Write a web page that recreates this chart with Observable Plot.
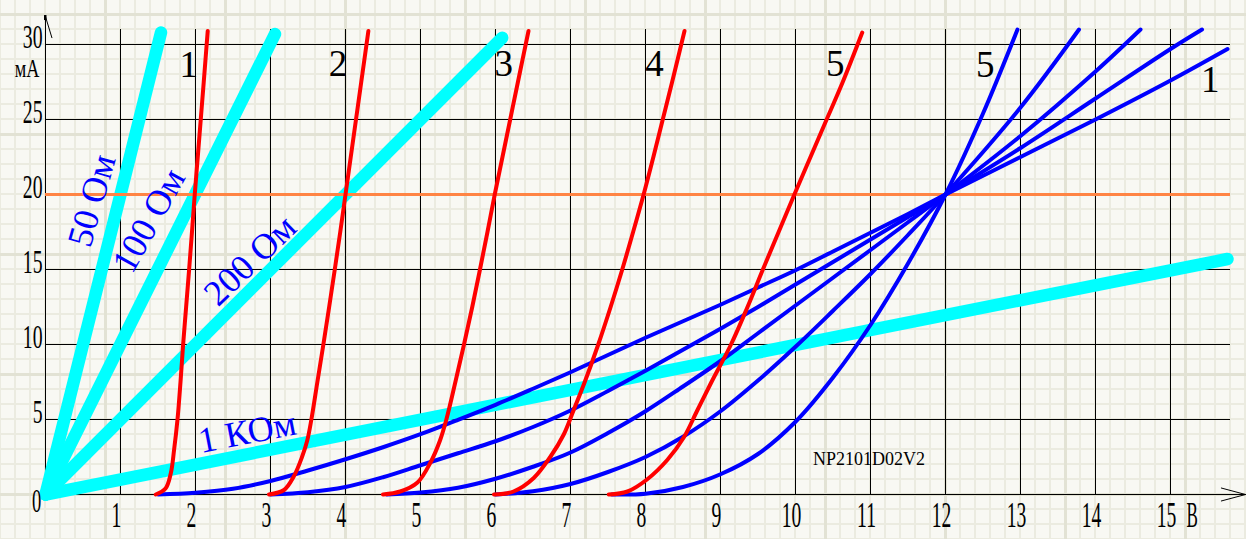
<!DOCTYPE html>
<html><head><meta charset="utf-8">
<script src="https://cdn.jsdelivr.net/npm/d3@7"></script>
<script src="https://cdn.jsdelivr.net/npm/@observablehq/plot@0.6"></script>
<style>
html,body{margin:0;padding:0;overflow:hidden;width:1246px;height:539px;}
body{background-color:#f8f8f3;
background-image:
 linear-gradient(to right, #e2e2d4 3px, transparent 3px),
 linear-gradient(to bottom, #e2e2d4 3px, transparent 3px),
 linear-gradient(to right, #ebebe0 2px, transparent 2px),
 linear-gradient(to bottom, #ebebe0 2px, transparent 2px);
background-size:120px 120px,120px 120px,15px 15px,15px 15px;
background-position:104px 0,0 13px,-1px 0,0 13px;}
#chart svg{display:block}
</style></head><body><div id="chart"></div>
<script>
// ---- axis values ----
const xTicks = [1,2,3,4,5,6,7,8,9,10,11,12,13,14,15];
const yTicks = [5,10,15,20,25,30];
const gridY = [5,10,15,25,30];
const refCurrent = [20];
const gridTopY = 31;      // mA, top of vertical grid lines
const gridRightX = 15.8;  // V, right end of horizontal grid lines
const xAxisEnd = 16;      // V
const yAxisTop = 31.93;   // mA

// ---- load lines (V, mA) ----
const load50  = [[0,0],[1.54,30.8]];
const load100 = [[0,0],[3.06,30.7]];
const load200 = [[0,0],[6.09,30.45]];
const load1k  = [[0,0],[15.76,15.7]];

// ---- red characteristics (V, mA) ----
const red1 = [[1.47,0],[1.6,0.4],[1.67,1.4],[1.715,3],[1.76,5],[1.8,7.5],[1.835,10],[1.875,12.5],[1.915,15],[1.953,17.5],[1.99,20],[2.03,22.5],[2.07,25],[2.11,27.5],[2.163,30.9]];
const red2 = [[2.98,0],[3.18,0.3],[3.31,1.2],[3.42,2.5],[3.49,3.6],[3.545,5],[3.625,7.5],[3.705,10],[3.782,12.5],[3.857,15],[3.93,17.5],[4.0,20],[4.07,22.5],[4.14,25],[4.21,27.5],[4.305,30.9]];
const red3 = [[4.5,0],[4.73,0.2],[4.96,0.8],[5.13,2.1],[5.26,3.6],[5.345,5],[5.465,7.5],[5.58,10],[5.69,12.5],[5.793,15],[5.893,17.5],[5.99,20],[6.093,22.5],[6.196,25],[6.299,27.5],[6.44,30.9]];
const red4 = [[5.98,0],[6.24,0.2],[6.51,1.1],[6.73,2.5],[6.91,4],[7.04,5.6],[7.19,7.5],[7.37,10],[7.535,12.5],[7.69,15],[7.835,17.5],[7.975,20],[8.105,22.5],[8.23,25],[8.355,27.5],[8.52,30.9]];
const red5 = [[7.51,0],[7.76,0.2],[8.02,1.0],[8.29,2.3],[8.51,3.8],[8.69,5.6],[8.88,7.5],[9.14,10],[9.36,12.5],[9.565,15],[9.775,17.5],[9.985,20],[10.2,22.5],[10.415,25],[10.63,27.5],[10.89,30.8]];

// ---- blue characteristics (V, mA) ----
const blueA = [[1.5,0],[2,0.12],[2.5,0.38],[3,0.9],[3.5,1.6],[4,2.35],[4.5,3.15],[5,4.02],[5.5,4.98],[6,5.98],[6.5,7.05],[7,8.15],[7.5,9.3],[8,10.45],[8.5,11.55],[9,12.65],[9.5,13.8],[10,14.95],[10.5,16.2],[11,17.45],[11.5,18.7],[12,20],[13,22.5],[14,25],[15,27.6],[15.76,29.7]];
const blueB = [[3,0],[3.5,0.15],[4,0.5],[4.5,1.15],[5,1.95],[5.5,2.75],[6,3.55],[6.5,4.5],[7,5.6],[7.5,6.9],[8,8.25],[8.5,9.65],[9,11.05],[9.5,12.5],[10,14],[10.5,15.5],[11,17],[11.5,18.5],[12,20],[13,23.1],[14,26.4],[15,29.7],[15.42,31]];
const blueC = [[4.55,0],[5,0.13],[5.5,0.45],[6,1.05],[6.5,1.85],[7,2.8],[7.5,4.1],[8,5.55],[8.5,7.2],[9,8.9],[9.5,10.75],[10,12.6],[10.5,14.45],[11,16.3],[11.5,18.15],[12,20],[13,23.9],[14,28.2],[14.6,31]];
const blueD = [[6,0],[6.5,0.22],[7,0.7],[7.5,1.5],[8,2.5],[8.5,3.85],[9,5.55],[9.5,7.6],[10,9.85],[10.5,12.25],[11,14.7],[11.5,17.3],[12,20],[13,25.8],[13.78,31]];
const blueE = [[7.55,0],[8,0.05],[8.5,0.5],[9,1.35],[9.5,2.7],[10,4.85],[10.5,7.8],[11,11.3],[11.5,15.4],[12,20],[12.5,25.4],[12.96,31]];

// ---- labels ----
const curveLabels = [
  {t:"1", x:1.91, y:28.63},{t:"2", x:3.9, y:28.7},{t:"3", x:6.11, y:28.7},
  {t:"4", x:8.12, y:28.7},{t:"5", x:10.53, y:28.7},{t:"5", x:12.53, y:28.63},{t:"1", x:15.53, y:27.63}
];
const loadLabel50  = [{t:"50 Ом",  x:0.62, y:19.6}];
const loadLabel100 = [{t:"100 Ом", x:1.38, y:18.27}];
const loadLabel200 = [{t:"200 Ом", x:2.73, y:15.6}];
const loadLabel1k  = [{t:"1 КОм",  x:2.69, y:4.15}];
const codeLabel = [{t:"NP2101D02V2", x:10.98, y:2.38}];
const yUnit = [{t:"мА", y:28.4}];
const xUnit = [{t:"В", x:15.29}];
const originLabel = ["0"];

const rows = (arr, s) => arr.map(([x, y]) => ({x, y, s}));
const loads = [load50, load100, load200, load1k].flatMap((c, k) => rows(c, k));
const reds = [red1, red2, red3, red4, red5].flatMap((c, k) => rows(c, k));
const blues = [blueA, blueB, blueC, blueD, blueE].flatMap((c, k) => rows(c, k));

const serif = "Liberation Serif, Times New Roman, serif";
const blueLbl = {x:"x", y:"y", text:"t", fill:"#0000ff", fontSize:36, fontFamily:serif};

// font sizes double as keys for the horizontal squeeze of condensed labels
const FS_XT = 35, FS_YT = 34, FS_O = 33, FS_XU = 35.5, FS_YU = 26;
const squeezeBySize = {[FS_XT]: 0.56, [FS_YT]: 0.58, [FS_O]: 0.56, [FS_XU]: 0.48, [FS_YU]: 0.7};

const plot = Plot.plot({
  width: 1246, height: 539,
  marginLeft: 45, marginRight: 1, marginTop: 44, marginBottom: 45,
  x: {domain: [0, 16], axis: null},
  y: {domain: [0, 30], axis: null},
  style: {background: "transparent", overflow: "visible"},
  marks: [
    Plot.ruleX(xTicks, {x: d => d, y1: 0, y2: gridTopY, stroke: "black", strokeWidth: 1}),
    Plot.ruleY(gridY, {y: d => d, x1: 0, x2: gridRightX, stroke: "black", strokeWidth: 1}),
    Plot.ruleX([0], {x: d => d, y1: 0, y2: yAxisTop, stroke: "black", strokeWidth: 1}),
    Plot.arrow([{x1: 0, y1: 0, x2: xAxisEnd, y2: 0}], {x1: "x1", y1: "y1", x2: "x2", y2: "y2", stroke: "black", strokeWidth: 1, headLength: 37.5, headAngle: 30}),
    Plot.line(loads, {x: "x", y: "y", z: "s", stroke: "#00ffff", strokeWidth: 12.5, strokeLinecap: "round"}),
    Plot.ruleY(refCurrent, {y: d => d, x1: 0, x2: gridRightX, stroke: "#ff8444", strokeWidth: 3}),
    Plot.line(blues, {x: "x", y: "y", z: "s", stroke: "#0000ff", strokeWidth: 4, curve: "catmull-rom"}),
    Plot.line(reds, {x: "x", y: "y", z: "s", stroke: "#ff0000", strokeWidth: 4, curve: "catmull-rom"}),
    Plot.text(xTicks, {x: d => d, text: d => String(d), frameAnchor: "bottom", lineAnchor: "middle", textAnchor: "middle", dy: 21, dx: -4, fontSize: FS_XT, fontFamily: serif, fill: "black"}),
    Plot.text(yTicks, {y: d => d, text: d => String(d), frameAnchor: "left", lineAnchor: "middle", textAnchor: "end", dx: -3, dy: -7, fontSize: FS_YT, fontFamily: serif, fill: "black"}),
    Plot.text(originLabel, {text: d => d, frameAnchor: "bottom-left", lineAnchor: "middle", textAnchor: "middle", dx: -9, dy: 7, fontSize: FS_O, fontFamily: serif, fill: "black"}),
    Plot.text(xUnit, {x: "x", text: "t", frameAnchor: "bottom", lineAnchor: "middle", textAnchor: "middle", dy: 21, fontSize: FS_XU, fontFamily: serif, fill: "black"}),
    Plot.text(yUnit, {y: "y", text: "t", frameAnchor: "left", lineAnchor: "middle", textAnchor: "middle", dx: -18.5, fontSize: FS_YU, fontFamily: serif, fill: "black"}),
    Plot.text(curveLabels, {x: "x", y: "y", text: "t", fontSize: 37, fontFamily: serif, fill: "black"}),
    Plot.text(loadLabel50, {...blueLbl, rotate: -74}),
    Plot.text(loadLabel100, {...blueLbl, rotate: -61}),
    Plot.text(loadLabel200, {...blueLbl, rotate: -44}),
    Plot.text(loadLabel1k, {...blueLbl, rotate: -11}),
    Plot.text(codeLabel, {x: "x", y: "y", text: "t", fontSize: 18, fontFamily: serif, fill: "black"})
  ]
});
document.getElementById("chart").append(plot);

// horizontally condense the axis labels (the reference uses a narrow serif face)
plot.querySelectorAll("text").forEach(t => {
  const g = t.closest("[font-size]");
  const fs = g ? parseFloat(g.getAttribute("font-size")) : NaN;
  const k = squeezeBySize[fs];
  if (!k) return;
  const tr = t.getAttribute("transform");
  if (tr) t.setAttribute("transform", `${tr} scale(${k},1)`);
  else {
    const x = +t.getAttribute("x") || 0;
    t.removeAttribute("x");
    t.setAttribute("transform", `translate(${x},0) scale(${k},1)`);
  }
});

// half arrowhead on the y axis
const xs = plot.scale("x"), ys = plot.scale("y");
const tx = xs.apply(0), ty = ys.apply(yAxisTop);
const svg = d3.select(plot);
svg.append("path").attr("d", `M${tx},${ty}L${tx + 7},${ty + 23}`).attr("stroke", "black").attr("fill", "none");
svg.append("path").attr("d", `M${tx - 1},${ty}L${tx + 1.5},${ty}L${tx + 1.5},${ty + 5}L${tx - 1},${ty + 5}Z`).attr("fill", "black");
</script></body></html>
